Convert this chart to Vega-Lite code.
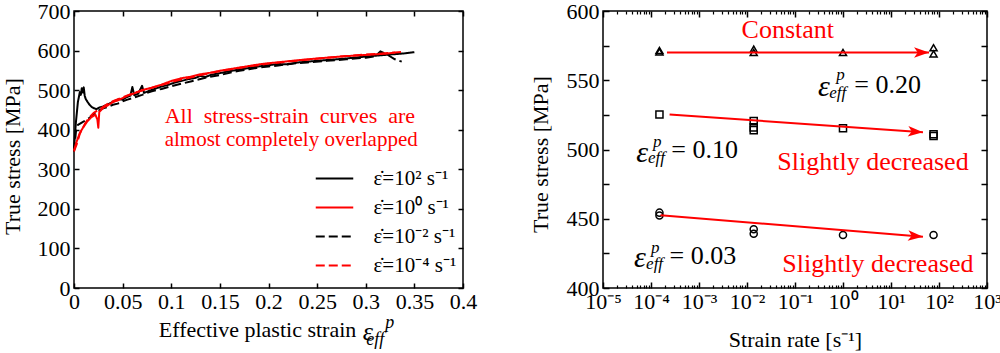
{
  "$schema": "https://vega.github.io/schema/vega-lite/v6.json",
  "autosize": {"type": "pad"},
  "padding": {"left": 0, "top": -1, "right": 0, "bottom": 0},
  "spacing": 140,
  "bounds": "flush",
  "resolve": {"scale": {"x": "independent", "y": "independent"}},
  "config": {
    "font": "Liberation Serif, Times New Roman, serif",
    "view": {"stroke": "#000", "strokeWidth": 1.5},
    "axis": {"domain": false, "ticks": true, "tickColor": "#000000", "tickWidth": 1.5, "tickOpacity": 1, "labelColor": "#000", "labelFontSize": 22, "labelFont": "Liberation Serif, Times New Roman, serif", "titleFont": "Liberation Serif, Times New Roman, serif", "titleFontSize": 22, "titleFontWeight": "normal", "titleColor": "#000", "grid": false},
    "legend": {"labelFont": "Liberation Serif, Times New Roman, serif"},
    "text": {"font": "Liberation Serif, Times New Roman, serif"}
  },
  "hconcat": [
    {
      "width": 389,
      "height": 277,
      "resolve": {"axis": {"x": "independent", "y": "independent"}},
      "layer": [
        {
          "data": {"values": [
            {"s":0,"v":352,"r":"a"},{"s":0.002,"v":420,"r":"a"},{"s":0.004,"v":470,"r":"a"},{"s":0.006,"v":495,"r":"a"},{"s":0.007,"v":488,"r":"a"},{"s":0.008,"v":505,"r":"a"},{"s":0.009,"v":494,"r":"a"},{"s":0.010,"v":507,"r":"a"},{"s":0.011,"v":486,"r":"a"},{"s":0.012,"v":478,"r":"a"},{"s":0.014,"v":470,"r":"a"},{"s":0.016,"v":463,"r":"a"},{"s":0.018,"v":458,"r":"a"},{"s":0.020,"v":455,"r":"a"},{"s":0.023,"v":452,"r":"a"},{"s":0.026,"v":456,"r":"a"},{"s":0.030,"v":459,"r":"a"},{"s":0.034,"v":463,"r":"a"},{"s":0.038,"v":468,"r":"a"},{"s":0.042,"v":473,"r":"a"},{"s":0.046,"v":477,"r":"a"},{"s":0.050,"v":476,"r":"a"},{"s":0.054,"v":482,"r":"a"},{"s":0.058,"v":486,"r":"a"},{"s":0.060,"v":508,"r":"a"},{"s":0.062,"v":487,"r":"a"},{"s":0.066,"v":491,"r":"a"},{"s":0.070,"v":511,"r":"a"},{"s":0.072,"v":493,"r":"a"},{"s":0.078,"v":499,"r":"a"},{"s":0.085,"v":505,"r":"a"},{"s":0.090,"v":509,"r":"a"},{"s":0.095,"v":512,"r":"a"},{"s":0.100,"v":516,"r":"a"},{"s":0.105,"v":520,"r":"a"},{"s":0.110,"v":523,"r":"a"},{"s":0.118,"v":528,"r":"a"},{"s":0.125,"v":531,"r":"a"},{"s":0.130,"v":536,"r":"a"},{"s":0.135,"v":533,"r":"a"},{"s":0.140,"v":538,"r":"a"},{"s":0.150,"v":543,"r":"a"},{"s":0.160,"v":548,"r":"a"},{"s":0.170,"v":552,"r":"a"},{"s":0.180,"v":556,"r":"a"},{"s":0.190,"v":560,"r":"a"},{"s":0.200,"v":563,"r":"a"},{"s":0.210,"v":566,"r":"a"},{"s":0.220,"v":565,"r":"a"},{"s":0.230,"v":570,"r":"a"},{"s":0.240,"v":572,"r":"a"},{"s":0.260,"v":576,"r":"a"},{"s":0.280,"v":580,"r":"a"},{"s":0.300,"v":585,"r":"a"},{"s":0.320,"v":589,"r":"a"},{"s":0.340,"v":593,"r":"a"},{"s":0.350,"v":596,"r":"a"},
            {"s":0,"v":345,"r":"c"},{"s":0.002,"v":395,"r":"c"},{"s":0.004,"v":412,"r":"c"},{"s":0.008,"v":418,"r":"c"},{"s":0.012,"v":424,"r":"c"},{"s":0.016,"v":430,"r":"c"},{"s":0.020,"v":438,"r":"c"},{"s":0.025,"v":448,"r":"c"},{"s":0.030,"v":454,"r":"c"},{"s":0.035,"v":458,"r":"c"},{"s":0.040,"v":463,"r":"c"},{"s":0.045,"v":466,"r":"c"},{"s":0.050,"v":472,"r":"c"},{"s":0.055,"v":476,"r":"c"},{"s":0.060,"v":480,"r":"c"},{"s":0.065,"v":484,"r":"c"},{"s":0.070,"v":488,"r":"c"},{"s":0.075,"v":493,"r":"c"},{"s":0.080,"v":497,"r":"c"},{"s":0.090,"v":503,"r":"c"},{"s":0.100,"v":510,"r":"c"},{"s":0.110,"v":516,"r":"c"},{"s":0.120,"v":522,"r":"c"},{"s":0.130,"v":528,"r":"c"},{"s":0.140,"v":534,"r":"c"},{"s":0.150,"v":538,"r":"c"},{"s":0.160,"v":544,"r":"c"},{"s":0.170,"v":549,"r":"c"},{"s":0.180,"v":553,"r":"c"},{"s":0.190,"v":557,"r":"c"},{"s":0.200,"v":560,"r":"c"},{"s":0.210,"v":562,"r":"c"},{"s":0.220,"v":566,"r":"c"},{"s":0.240,"v":570,"r":"c"},{"s":0.260,"v":574,"r":"c"},{"s":0.280,"v":578,"r":"c"},{"s":0.300,"v":582,"r":"c"},{"s":0.310,"v":586,"r":"c"},{"s":0.315,"v":598,"r":"c"},{"s":0.322,"v":590,"r":"c"},{"s":0.330,"v":578,"r":"c"},{"s":0.337,"v":572,"r":"c"},
            {"s":0,"v":345,"r":"d"},{"s":0.003,"v":365,"r":"d"},{"s":0.006,"v":390,"r":"d"},{"s":0.009,"v":404,"r":"d"},{"s":0.012,"v":418,"r":"d"},{"s":0.016,"v":432,"r":"d"},{"s":0.020,"v":442,"r":"d"},{"s":0.025,"v":450,"r":"d"},{"s":0.030,"v":458,"r":"d"},{"s":0.035,"v":466,"r":"d"},{"s":0.040,"v":472,"r":"d"},{"s":0.050,"v":482,"r":"d"},{"s":0.060,"v":491,"r":"d"},{"s":0.070,"v":499,"r":"d"},{"s":0.080,"v":506,"r":"d"},{"s":0.090,"v":513,"r":"d"},{"s":0.100,"v":520,"r":"d"},{"s":0.110,"v":527,"r":"d"},{"s":0.120,"v":532,"r":"d"},{"s":0.130,"v":538,"r":"d"},{"s":0.140,"v":543,"r":"d"},{"s":0.150,"v":548,"r":"d"},{"s":0.160,"v":552,"r":"d"},{"s":0.170,"v":556,"r":"d"},{"s":0.180,"v":560,"r":"d"},{"s":0.190,"v":563,"r":"d"},{"s":0.200,"v":567,"r":"d"},{"s":0.220,"v":572,"r":"d"},{"s":0.240,"v":577,"r":"d"},{"s":0.260,"v":582,"r":"d"},{"s":0.280,"v":586,"r":"d"},{"s":0.300,"v":590,"r":"d"},{"s":0.320,"v":593,"r":"d"},{"s":0.340,"v":597,"r":"d"},
            {"s":0,"v":348,"r":"b"},{"s":0.003,"v":372,"r":"b"},{"s":0.006,"v":392,"r":"b"},{"s":0.010,"v":408,"r":"b"},{"s":0.014,"v":422,"r":"b"},{"s":0.018,"v":432,"r":"b"},{"s":0.022,"v":438,"r":"b"},{"s":0.024,"v":426,"r":"b"},{"s":0.025,"v":405,"r":"b"},{"s":0.026,"v":445,"r":"b"},{"s":0.030,"v":455,"r":"b"},{"s":0.035,"v":462,"r":"b"},{"s":0.040,"v":470,"r":"b"},{"s":0.045,"v":474,"r":"b"},{"s":0.050,"v":480,"r":"b"},{"s":0.055,"v":486,"r":"b"},{"s":0.060,"v":490,"r":"b"},{"s":0.065,"v":495,"r":"b"},{"s":0.070,"v":500,"r":"b"},{"s":0.080,"v":506,"r":"b"},{"s":0.090,"v":514,"r":"b"},{"s":0.100,"v":523,"r":"b"},{"s":0.110,"v":530,"r":"b"},{"s":0.120,"v":534,"r":"b"},{"s":0.130,"v":540,"r":"b"},{"s":0.140,"v":544,"r":"b"},{"s":0.150,"v":549,"r":"b"},{"s":0.160,"v":553,"r":"b"},{"s":0.170,"v":557,"r":"b"},{"s":0.180,"v":561,"r":"b"},{"s":0.190,"v":565,"r":"b"},{"s":0.200,"v":568,"r":"b"},{"s":0.220,"v":573,"r":"b"},{"s":0.240,"v":578,"r":"b"},{"s":0.260,"v":582,"r":"b"},{"s":0.280,"v":586,"r":"b"},{"s":0.300,"v":589,"r":"b"},{"s":0.320,"v":592,"r":"b"},{"s":0.330,"v":595,"r":"b"}
          ]},
          "mark": {"type": "line", "strokeWidth": 2, "strokeJoin": "round"},
          "encoding": {
            "x": {"field": "s", "type": "quantitative", "scale": {"domain": [0, 0.4], "nice": false, "zero": false},
                  "axis": {"orient": "bottom", "offset": -5, "values": [0,0.05,0.1,0.15,0.2,0.25,0.3,0.35,0.4], "format": ".2~f", "ticks": true, "tickSize": 5, "tickWidth": 1.5, "tickColor": "#000000", "labelPadding": 3, "labelOverlap": false, "labelFlush": false, "title": null}},
            "y": {"field": "v", "type": "quantitative", "scale": {"domain": [0, 700], "nice": false},
                  "axis": {"orient": "left", "offset": -5, "values": [0,100,200,300,400,500,600,700], "ticks": true, "tickSize": 5, "tickWidth": 1.5, "tickColor": "#000000", "labelPadding": 4, "labelOverlap": false, "labelFlush": false, "title": "True stress  [MPa]", "titleX": -67, "titleY": 145, "titleAngle": -90, "titleAlign": "center", "titleBaseline": "middle"}},
            "color": {"field": "r", "type": "nominal", "scale": {"domain": ["a","b","c","d"], "range": ["#000000","#ff0000","#000000","#ff0000"]},
                      "legend": {"orient": "none", "legendX": 250, "legendY": 157, "title": null, "symbolType": "M-2.5,0L2.5,0", "symbolSize": 225, "symbolStrokeWidth": 2, "labelFontSize": 21, "labelOffset": 28.5, "rowPadding": 7, "padding": 0,
                                 "labelExpr": "datum.label == 'a' ? 'ε̇=10² s⁻¹' : datum.label == 'b' ? 'ε̇=10⁰ s⁻¹' : datum.label == 'c' ? 'ε̇=10⁻² s⁻¹' : 'ε̇=10⁻⁴ s⁻¹'"}},
            "strokeDash": {"field": "r", "type": "nominal", "scale": {"domain": ["a","b","c","d"], "range": [[1,0],[1,0],[9,4],[9,4]]},
                      "legend": {"orient": "none", "legendX": 250, "legendY": 157, "title": null, "symbolType": "M-2.5,0L2.5,0", "symbolSize": 225, "symbolStrokeWidth": 2, "labelFontSize": 21, "labelOffset": 28.5, "rowPadding": 7, "padding": 0,
                                 "labelExpr": "datum.label == 'a' ? 'ε̇=10² s⁻¹' : datum.label == 'b' ? 'ε̇=10⁰ s⁻¹' : datum.label == 'c' ? 'ε̇=10⁻² s⁻¹' : 'ε̇=10⁻⁴ s⁻¹'"}}
          }
        },
        {
          "data": {"values": [
            {"x": 0.0932, "y": 434, "t": "All\u00a0 stress-strain\u00a0 curves\u00a0 are"}
          ]},
          "mark": {"type": "text", "align": "left", "baseline": "middle", "fontSize": 22, "color": "#ff0000"},
          "encoding": {"x": {"field": "x", "type": "quantitative", "axis": null}, "y": {"field": "y", "type": "quantitative", "axis": null}, "text": {"field": "t"}}
        },
        {
          "data": {"values": [
            {"x": 0.0932, "y": 373, "t": "almost completely overlapped"}
          ]},
          "mark": {"type": "text", "align": "left", "baseline": "middle", "fontSize": 21, "color": "#ff0000"},
          "encoding": {"x": {"field": "x", "type": "quantitative", "axis": null}, "y": {"field": "y", "type": "quantitative", "axis": null}, "text": {"field": "t"}}
        },
        {
          "data": {"values": [{"x": 0.2903, "y": -107, "t": "Effective plastic strain"}]},
          "mark": {"type": "text", "align": "right", "baseline": "middle", "fontSize": 22, "color": "#000"},
          "encoding": {"x": {"field": "x", "type": "quantitative", "axis": null}, "y": {"field": "y", "type": "quantitative", "axis": null}, "text": {"field": "t"}}
        },
        {
          "data": {"values": [{"x": 0.297, "y": -112, "t": "ε"}]},
          "mark": {"type": "text", "align": "left", "baseline": "middle", "fontSize": 26, "fontStyle": "italic", "color": "#000"},
          "encoding": {"x": {"field": "x", "type": "quantitative", "axis": null}, "y": {"field": "y", "type": "quantitative", "axis": null}, "text": {"field": "t"}}
        },
        {
          "data": {"values": [{"x": 0.3005, "y": -132, "t": "eff"}, {"x": 0.32, "y": -89, "t": "p"}]},
          "mark": {"type": "text", "align": "left", "baseline": "middle", "fontSize": 18, "fontStyle": "italic", "color": "#000"},
          "encoding": {"x": {"field": "x", "type": "quantitative", "axis": null}, "y": {"field": "y", "type": "quantitative", "axis": null}, "text": {"field": "t"}}
        },
        {
          "data": {"values": [{"s": 0, "v": 0}]},
          "mark": {"type": "point", "opacity": 0},
          "encoding": {
            "x": {"field": "s", "type": "quantitative", "axis": {"orient": "top", "offset": -5, "values": [0,0.05,0.1,0.15,0.2,0.25,0.3,0.35,0.4], "labels": false, "ticks": true, "tickSize": 5, "tickWidth": 1.5, "tickColor": "#000000", "title": null}},
            "y": {"field": "v", "type": "quantitative", "axis": {"orient": "right", "offset": -5, "values": [0,100,200,300,400,500,600,700], "labels": false, "ticks": true, "tickSize": 5, "tickWidth": 1.5, "tickColor": "#000000", "title": null}}
          }
        }
      ]
    },
    {
      "width": 384,
      "height": 277,
      "resolve": {"axis": {"x": "independent", "y": "independent"}},
      "layer": [
        {
          "data": {"values": [
            {"x":1.5e-4,"y":570.5,"g":"t"},{"x":1.5e-4,"y":571.5,"g":"t"},{"x":0.0138,"y":570,"g":"t"},{"x":0.0138,"y":572.5,"g":"t"},{"x":1,"y":570,"g":"t"},{"x":77,"y":573.5,"g":"t"},{"x":77,"y":569,"g":"t"},
            {"x":1.5e-4,"y":525.3,"g":"s"},{"x":0.0138,"y":520.5,"g":"s"},{"x":0.0138,"y":516,"g":"s"},{"x":0.0138,"y":514,"g":"s"},{"x":1,"y":515.3,"g":"s"},{"x":77,"y":511,"g":"s"},{"x":77,"y":509.7,"g":"s"},
            {"x":1.5e-4,"y":454.4,"g":"c"},{"x":1.5e-4,"y":452.3,"g":"c"},{"x":0.0138,"y":442.4,"g":"c"},{"x":0.0138,"y":439.2,"g":"c"},{"x":1,"y":438.3,"g":"c"},{"x":77,"y":438.3,"g":"c"}
          ]},
          "mark": {"type": "point", "filled": false, "color": "#000", "strokeWidth": 1.5, "size": 50, "opacity": 1},
          "encoding": {
            "x": {"field": "x", "type": "quantitative", "scale": {"type": "log", "domain": [1e-5, 1e3], "nice": false},
                  "axis": {"orient": "bottom", "offset": -6, "values": [1e-5,1e-4,1e-3,1e-2,0.1,1,10,100,1000],
                           "labelExpr": "'10' + ['⁻⁵','⁻⁴','⁻³','⁻²','⁻¹','⁰','¹','²','³'][round(log(datum.value)/LN10)+5]",
                           "ticks": true, "tickSize": 6, "tickWidth": 1.5, "tickColor": "#000000", "labelPadding": 3, "labelOverlap": false, "labelFlush": false, "title": "Strain rate [s⁻¹]", "titleY": 57, "titleBaseline": "middle"}},
            "y": {"field": "y", "type": "quantitative", "scale": {"domain": [400, 600], "nice": false, "zero": false},
                  "axis": {"orient": "left", "offset": -6, "values": [400,425,450,475,500,525,550,575,600], "labelExpr": "datum.value % 50 == 0 ? datum.label : ''", "ticks": true, "tickSize": 6, "tickWidth": 1.5, "tickColor": "#000000", "labelPadding": 4, "labelOverlap": false, "labelFlush": false, "title": "True stress  [MPa]", "titleX": -68.4, "titleY": 143, "titleAngle": -90, "titleAlign": "center", "titleBaseline": "middle"}},
            "shape": {"field": "g", "type": "nominal", "scale": {"domain": ["t","s","c"], "range": ["triangle-up","square","circle"]}, "legend": null}
          }
        },
        {
          "data": {"values": [
            {"x": 2.15e-4, "y": 570, "x2": 62, "y2": 570},
            {"x": 2.44e-4, "y": 525.3, "x2": 46.4, "y2": 512.5},
            {"x": 1.58e-4, "y": 452.5, "x2": 46.4, "y2": 437}
          ]},
          "mark": {"type": "rule", "color": "#ff0000", "strokeWidth": 2},
          "encoding": {
            "x": {"field": "x", "type": "quantitative", "scale": {"type": "log"}, "axis": null},
            "x2": {"field": "x2"},
            "y": {"field": "y", "type": "quantitative", "axis": null},
            "y2": {"field": "y2"}
          }
        },
        {
          "data": {"values": [
            {"x": 62, "y": 570, "a": 0},
            {"x": 46.4, "y": 512.5, "a": 4.0},
            {"x": 46.4, "y": 437, "a": 4.6}
          ]},
          "mark": {"type": "point", "shape": "M0,0L-2,-0.7L-1.5,0L-2,0.7Z", "filled": true, "color": "#ff0000", "size": 225, "opacity": 1, "strokeWidth": 0},
          "encoding": {
            "x": {"field": "x", "type": "quantitative", "scale": {"type": "log"}, "axis": null},
            "y": {"field": "y", "type": "quantitative", "axis": null},
            "angle": {"field": "a", "type": "quantitative", "scale": null}
          }
        },
        {
          "data": {"values": [
            {"x": 0.0077, "y": 586.2, "t": "Constant"},
            {"x": 0.0428, "y": 490.8, "t": "Slightly decreased"},
            {"x": 0.0543, "y": 417.2, "t": "Slightly decreased"}
          ]},
          "mark": {"type": "text", "align": "left", "baseline": "middle", "fontSize": 26, "color": "#ff0000"},
          "encoding": {"x": {"field": "x", "type": "quantitative", "scale": {"type": "log"}, "axis": null}, "y": {"field": "y", "type": "quantitative", "axis": null}, "text": {"field": "t"}}
        },
        {
          "data": {"values": [
            {"x": 1.72, "y": 546.4, "t": "= 0.20"},
            {"x": 2.65e-4, "y": 499.3, "t": "= 0.10"},
            {"x": 2.44e-4, "y": 423.2, "t": "= 0.03"}
          ]},
          "mark": {"type": "text", "align": "left", "baseline": "middle", "fontSize": 26, "color": "#000"},
          "encoding": {"x": {"field": "x", "type": "quantitative", "scale": {"type": "log"}, "axis": null}, "y": {"field": "y", "type": "quantitative", "axis": null}, "text": {"field": "t"}}
        },
        {
          "data": {"values": [
            {"x": 0.301, "y": 544.9, "t": "ε"},
            {"x": 4.94e-5, "y": 497.8, "t": "ε"},
            {"x": 4.43e-5, "y": 421.7, "t": "ε"}
          ]},
          "mark": {"type": "text", "align": "left", "baseline": "middle", "fontSize": 30, "fontStyle": "italic", "color": "#000"},
          "encoding": {"x": {"field": "x", "type": "quantitative", "scale": {"type": "log"}, "axis": null}, "y": {"field": "y", "type": "quantitative", "axis": null}, "text": {"field": "t"}}
        },
        {
          "data": {"values": [
            {"x": 0.519, "y": 540.6, "t": "eff"},
            {"x": 8.66e-5, "y": 493.6, "t": "eff"},
            {"x": 7.9e-5, "y": 417.4, "t": "eff"},
            {"x": 0.724, "y": 553.6, "t": "p"},
            {"x": 1.1e-4, "y": 505.2, "t": "p"},
            {"x": 1.0e-4, "y": 429, "t": "p"}
          ]},
          "mark": {"type": "text", "align": "left", "baseline": "middle", "fontSize": 17, "fontStyle": "italic", "color": "#000"},
          "encoding": {"x": {"field": "x", "type": "quantitative", "scale": {"type": "log"}, "axis": null}, "y": {"field": "y", "type": "quantitative", "axis": null}, "text": {"field": "t"}}
        },
        {
          "data": {"values": [{"x": 1, "y": 500}]},
          "mark": {"type": "point", "opacity": 0},
          "encoding": {
            "x": {"field": "x", "type": "quantitative", "scale": {"type": "log"},
                  "axis": {"orient": "bottom", "offset": -3, "values": [2e-5,3e-5,4e-5,5e-5,6e-5,7e-5,8e-5,9e-5,2e-4,3e-4,4e-4,5e-4,6e-4,7e-4,8e-4,9e-4,2e-3,3e-3,4e-3,5e-3,6e-3,7e-3,8e-3,9e-3,2e-2,3e-2,4e-2,5e-2,6e-2,7e-2,8e-2,9e-2,0.2,0.3,0.4,0.5,0.6,0.7,0.8,0.9,2,3,4,5,6,7,8,9,20,30,40,50,60,70,80,90,200,300,400,500,600,700,800,900],
                           "labels": false, "title": null, "ticks": true, "tickSize": 3, "tickWidth": 1.2, "tickColor": "#000000"}},
            "y": {"field": "y", "type": "quantitative", "axis": null}
          }
        },
        {
          "data": {"values": [{"x": 1, "y": 500}]},
          "mark": {"type": "point", "opacity": 0},
          "encoding": {
            "x": {"field": "x", "type": "quantitative", "scale": {"type": "log"},
                  "axis": {"orient": "top", "offset": -6, "values": [1e-5,1e-4,1e-3,1e-2,0.1,1,10,100,1000], "labels": false, "title": null, "ticks": true, "tickSize": 6, "tickWidth": 1.5, "tickColor": "#000000"}},
            "y": {"field": "y", "type": "quantitative", "axis": {"orient": "right", "offset": -6, "values": [400,425,450,475,500,525,550,575,600], "labels": false, "ticks": true, "tickSize": 6, "tickWidth": 1.5, "tickColor": "#000000", "title": null}}
          }
        },
        {
          "data": {"values": [{"x": 1, "y": 500}]},
          "mark": {"type": "point", "opacity": 0},
          "encoding": {
            "x": {"field": "x", "type": "quantitative", "scale": {"type": "log"},
                  "axis": {"orient": "top", "offset": -3, "values": [2e-5,3e-5,4e-5,5e-5,6e-5,7e-5,8e-5,9e-5,2e-4,3e-4,4e-4,5e-4,6e-4,7e-4,8e-4,9e-4,2e-3,3e-3,4e-3,5e-3,6e-3,7e-3,8e-3,9e-3,2e-2,3e-2,4e-2,5e-2,6e-2,7e-2,8e-2,9e-2,0.2,0.3,0.4,0.5,0.6,0.7,0.8,0.9,2,3,4,5,6,7,8,9,20,30,40,50,60,70,80,90,200,300,400,500,600,700,800,900],
                           "labels": false, "title": null, "ticks": true, "tickSize": 3, "tickWidth": 1.2, "tickColor": "#000000"}},
            "y": {"field": "y", "type": "quantitative", "axis": null}
          }
        }
      ]
    }
  ]
}
